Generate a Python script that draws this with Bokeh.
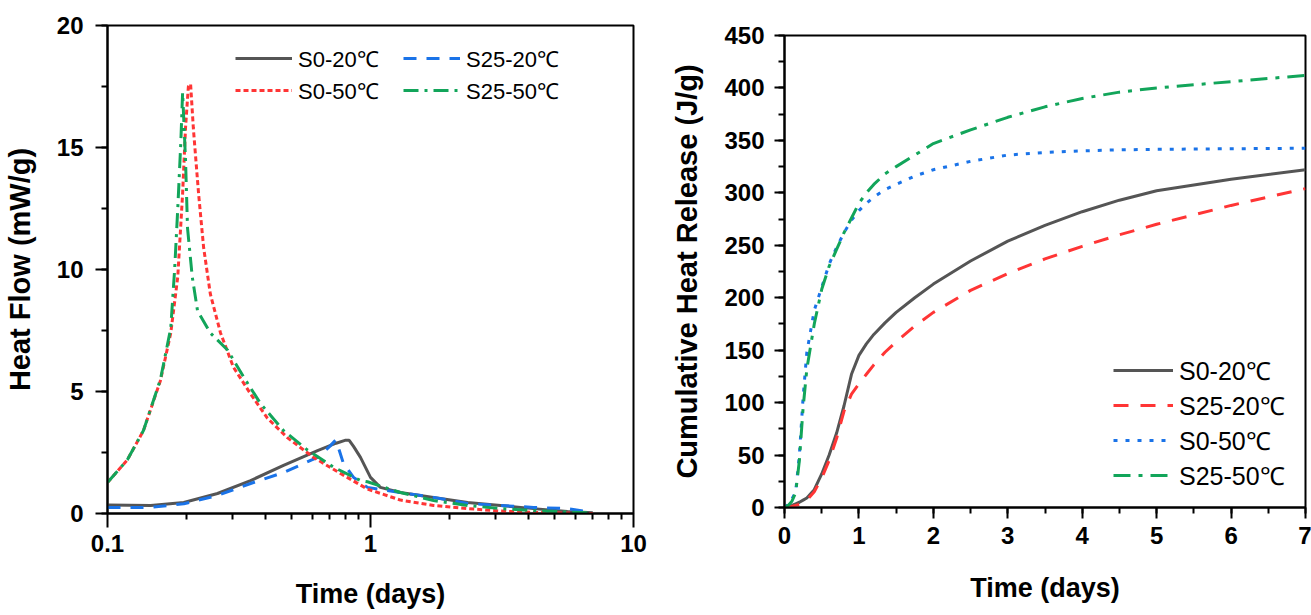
from bokeh.plotting import figure
from bokeh.models import (Range1d, FixedTicker, SingleIntervalTicker, Legend,
                          LegendItem, NumeralTickFormatter)
from bokeh.layouts import row, column
from bokeh.embed import file_html
from bokeh.resources import INLINE

DEG = "\u2103"
LABELS = ["S0-20" + DEG, "S25-20" + DEG, "S0-50" + DEG, "S25-50" + DEG]

# ---------------- left panel: heat flow (log time) ----------------
hf_s0_20_t = [0.100, 0.146, 0.195, 0.262, 0.350, 0.467, 0.629, 0.740, 0.800, 0.830,
              0.862, 0.916, 1.000, 1.090, 1.300, 1.736, 2.340, 3.120, 4.170, 5.610, 7.000]
hf_s0_20_y = [0.35, 0.33, 0.45, 0.82, 1.35, 1.97, 2.58, 2.88, 3.0, 3.0,
              2.75, 2.3, 1.48, 1.07, 0.86, 0.66, 0.45, 0.33, 0.20, 0.08, 0.03]

hf_s25_20_t = [0.100, 0.146, 0.195, 0.262, 0.350, 0.467, 0.629, 0.700, 0.736, 0.760,
               0.789, 0.862, 0.974, 1.300, 1.736, 2.340, 3.120, 4.170, 5.610, 6.680]
hf_s25_20_y = [0.25, 0.25, 0.40, 0.74, 1.23, 1.68, 2.3, 2.75, 3.0, 2.6,
               2.05, 1.48, 1.07, 0.86, 0.66, 0.41, 0.33, 0.25, 0.20, 0.08]

hf_s0_50_t = [0.100, 0.119, 0.137, 0.159, 0.174, 0.185, 0.193, 0.198, 0.203, 0.207,
              0.212, 0.222, 0.232, 0.246, 0.269, 0.301, 0.350, 0.406, 0.484, 0.607,
              0.769, 0.974, 1.300, 1.736, 2.340, 3.120, 4.170, 5.610, 7.000]
hf_s0_50_y = [1.27, 2.2, 3.4, 5.45, 7.4, 9.7, 13.1, 15.8, 17.5, 17.6,
              15.8, 13.1, 10.9, 9.0, 7.4, 6.0, 4.9, 3.9, 3.1, 2.3,
              1.64, 1.0, 0.55, 0.33, 0.20, 0.10, 0.05, 0.02, 0.0]

hf_s25_50_t = [0.100, 0.119, 0.137, 0.159, 0.174, 0.180, 0.185, 0.190, 0.193, 0.198,
               0.2015, 0.210, 0.220, 0.246, 0.286, 0.329, 0.382, 0.467, 0.576, 0.723,
               0.916, 0.974, 1.300, 1.736, 2.340, 3.120, 4.170, 5.610, 6.680]
hf_s25_50_y = [1.27, 2.2, 3.4, 5.5, 7.6, 10.0, 12.5, 15.2, 17.25, 14.5,
               11.7, 9.7, 8.3, 7.4, 6.7, 5.6, 4.5, 3.4, 2.6, 1.9,
               1.35, 1.3, 0.86, 0.53, 0.33, 0.20, 0.12, 0.06, 0.03]

# ---------------- right panel: cumulative heat ----------------
ch_t = [0, 0.05, 0.1, 0.15, 0.2, 0.25, 0.3, 0.4, 0.5, 0.6, 0.7, 0.8, 0.9, 1.0, 1.1,
        1.2, 1.35, 1.5, 1.75, 2.0, 2.5, 3.0, 3.5, 4.0, 4.5, 5.0, 6.0, 7.0]
ch_s0_20 = [0, 1, 2, 3.5, 5, 7, 9, 17, 32, 50, 71, 97, 127, 145, 156,
            165, 176, 186, 200, 213, 235, 254, 269, 282, 293, 302, 313, 322]
ch_s25_20 = [0, 0.5, 1, 2, 3, 5, 7, 15, 28, 45, 66, 92, 108, 118, 127,
             136, 148, 158, 173, 186, 207, 223, 237, 249, 260, 270, 288, 304]
ch_s0_50 = [0, 3, 8, 15, 50, 105, 148, 188, 210, 232, 248, 262, 274, 283, 290,
            296, 303, 308, 316, 322, 330, 336, 338.5, 340, 341, 341.5, 342, 342.5]
ch_s25_50 = [0, 2, 6, 14, 45, 95, 132, 175, 208, 230, 246, 262, 276, 290, 300,
             308, 318, 325, 336, 347, 360, 372, 382, 390, 396, 400, 406, 412]

FONT = "Liberation Sans"


def style(p, xtick_out, ytick_out, minor_out):
    p.outline_line_color = "black"
    p.outline_line_width = 2
    p.xgrid.visible = False
    p.ygrid.visible = False
    for ax, to in ((p.xaxis[0], xtick_out), (p.yaxis[0], ytick_out)):
        ax.axis_line_width = 2
        ax.axis_line_color = "black"
        ax.major_tick_line_width = 2
        ax.major_tick_line_color = "black"
        ax.minor_tick_line_width = 2
        ax.minor_tick_line_color = "black"
        ax.major_tick_in = 0
        ax.minor_tick_in = 0
        ax.major_tick_out = to
        ax.minor_tick_out = minor_out
        ax.major_label_text_font = FONT
        ax.major_label_text_font_style = "bold"
        ax.major_label_text_font_size = "24px"
        ax.major_label_text_color = "black"
        ax.axis_label_text_font = FONT
        ax.axis_label_text_font_style = "bold"
        ax.axis_label_text_color = "black"


# Left figure
p1 = figure(width=668, height=615, x_axis_type="log",
            x_range=Range1d(0.1, 10), y_range=Range1d(0, 20),
            output_backend="svg", toolbar_location=None,
            min_border_left=107, min_border_right=35,
            min_border_top=25, min_border_bottom=102)
style(p1, 14, 12, 6)
p1.xaxis.ticker = FixedTicker(ticks=[0.1, 1, 10],
                              minor_ticks=[0.2, 0.3, 0.4, 0.5, 0.6, 0.7, 0.8, 0.9,
                                           2, 3, 4, 5, 6, 7, 8, 9])
p1.xaxis.formatter = NumeralTickFormatter(format="0.[0]")
p1.yaxis.ticker = SingleIntervalTicker(interval=5, num_minor_ticks=2)
p1.xaxis.axis_label = "Time (days)"
p1.yaxis.axis_label = "Heat Flow (mW/g)"
p1.xaxis.axis_label_text_font_size = "27px"
p1.yaxis.axis_label_text_font_size = "29px"
p1.xaxis.major_label_standoff = 7
p1.yaxis.major_label_standoff = 12
p1.xaxis.axis_label_standoff = 24
p1.yaxis.axis_label_standoff = 18

GRAY, BLUE, RED, GREEN = "#555555", "#1a73e8", "#ff3535", "#12a55a"
LW = 3
r1a = p1.line(hf_s0_20_t, hf_s0_20_y, line_color=GRAY, line_width=LW)
r1b = p1.line(hf_s25_20_t, hf_s25_20_y, line_color=BLUE, line_width=LW,
              line_dash="13 10")
r1c = p1.line(hf_s0_50_t, hf_s0_50_y, line_color=RED, line_width=LW,
              line_dash="5 3")
r1d = p1.line(hf_s25_50_t, hf_s25_50_y, line_color=GREEN, line_width=LW,
              line_dash="15 6 3 6")


def mk_legend(items, loc, size, gw, spacing):
    lg = Legend(items=items, location=loc, orientation="vertical",
                border_line_color=None, background_fill_alpha=0,
                padding=0, margin=0, spacing=spacing,
                glyph_width=gw, glyph_height=24, label_height=24,
                label_standoff=6, label_text_font=FONT,
                label_text_font_size=size, label_text_color="black")
    return lg


lgA = mk_legend([LegendItem(label=LABELS[0], renderers=[r1a]),
                 LegendItem(label=LABELS[2], renderers=[r1c])],
                (128, 408), "22px", 57, 2)
lgB = mk_legend([LegendItem(label=LABELS[1], renderers=[r1b]),
                 LegendItem(label=LABELS[3], renderers=[r1d])],
                (296, 408), "22px", 57, 2)
p1.add_layout(lgA)
p1.add_layout(lgB)

# Right figure
p2 = figure(width=643, height=615,
            x_range=Range1d(0, 7), y_range=Range1d(0, 450),
            output_backend="svg", toolbar_location=None,
            min_border_left=115, min_border_right=6,
            min_border_top=35, min_border_bottom=108)
style(p2, 11, 10, 6)
p2.xaxis.ticker = SingleIntervalTicker(interval=1, num_minor_ticks=2)
p2.yaxis.ticker = SingleIntervalTicker(interval=50, num_minor_ticks=2)
p2.xaxis.axis_label = "Time (days)"
p2.yaxis.axis_label = "Cumulative Heat Release (J/g)"
p2.xaxis.axis_label_text_font_size = "27px"
p2.yaxis.axis_label_text_font_size = "29px"
p2.xaxis.major_label_standoff = 8
p2.yaxis.major_label_standoff = 10
p2.xaxis.axis_label_standoff = 26
p2.yaxis.axis_label_standoff = 18

r2a = p2.line(ch_t, ch_s0_20, line_color=GRAY, line_width=LW)
r2b = p2.line(ch_t, ch_s25_20, line_color=RED, line_width=LW, line_dash="15 12")
r2c = p2.line(ch_t, ch_s0_50, line_color=BLUE, line_width=LW, line_dash="4 8")
r2d = p2.line(ch_t, ch_s25_50, line_color=GREEN, line_width=LW,
              line_dash="17 8 4 8")

lgC = mk_legend([LegendItem(label=LABELS[0], renderers=[r2a]),
                 LegendItem(label=LABELS[1], renderers=[r2b]),
                 LegendItem(label=LABELS[2], renderers=[r2c]),
                 LegendItem(label=LABELS[3], renderers=[r2d])],
                (329, 15), "25px", 60, 1)
p2.add_layout(lgC)

layout = row(column(p1), column(p2))
open("out.html", "w").write(file_html(layout, INLINE))
